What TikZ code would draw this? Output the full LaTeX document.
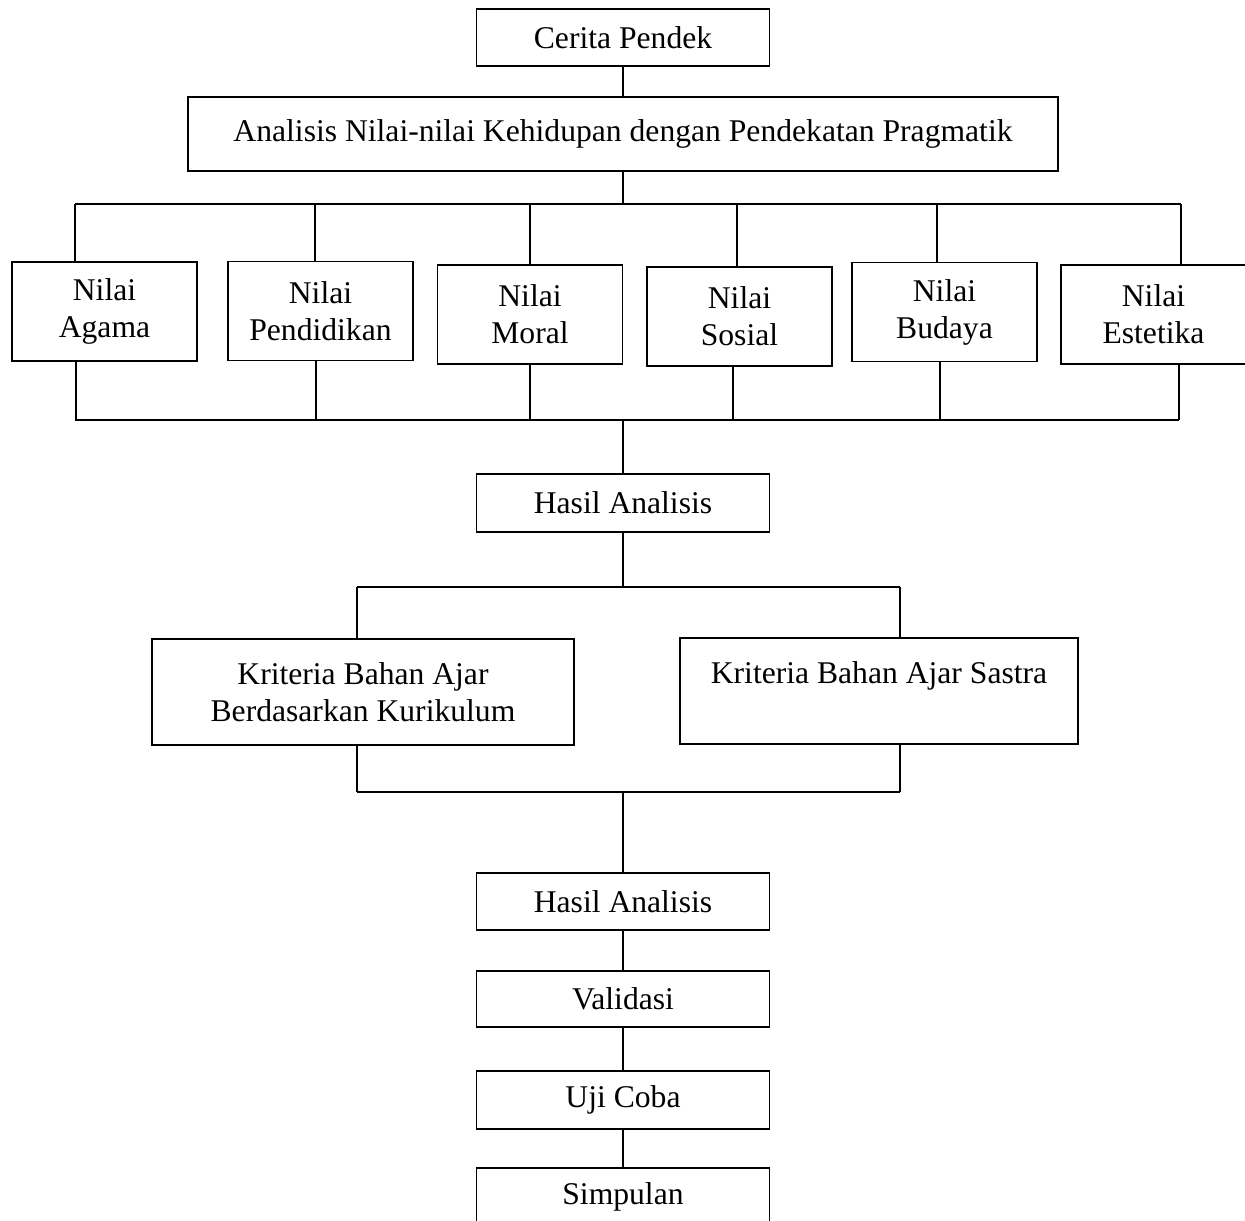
\documentclass[tikz,border=0pt]{standalone}
\usepackage{fontspec}
\setmainfont{Liberation Serif}
\tikzset{
  kotak/.style={draw, rectangle, align=center, inner sep=0pt, line width=1.1pt,
    minimum width=5.86cm, font=\fontsize{18}{21}\selectfont},
  garis/.style={line width=1.1pt}
}
\begin{document}
\begin{tikzpicture}[x=0.02cm, y=-0.02cm]
\useasboundingbox (0,0) rectangle (1245,1221);
\node[kotak, minimum height=1.14cm] (cerita) at (623,37.5) {Cerita Pendek};
\node[kotak, minimum width=17.4cm, minimum height=1.48cm] (analisis) at (623,134) {Analisis Nilai-nilai Kehidupan dengan Pendekatan Pragmatik};
\node[kotak, minimum width=3.7cm, minimum height=1.98cm] (agama) at (104.5,311.5) {Nilai\\Agama};
\node[kotak, minimum width=3.7cm, minimum height=1.98cm] (pendidikan) at (320.5,311) {Nilai\\Pendidikan};
\node[kotak, minimum width=3.7cm, minimum height=1.98cm] (moral) at (530,314.5) {Nilai\\Moral};
\node[kotak, minimum width=3.7cm, minimum height=1.98cm] (sosial) at (739.5,316.5) {Nilai\\Sosial};
\node[kotak, minimum width=3.7cm, minimum height=1.98cm] (budaya) at (944.5,312) {Nilai\\Budaya};
\node[kotak, minimum width=3.7cm, minimum height=1.98cm] (estetika) at (1153.5,314.5) {Nilai\\Estetika};
\node[kotak, minimum height=1.16cm] (hasilA) at (623,503) {Hasil Analisis};
\node[kotak, minimum width=8.46cm, minimum height=2.12cm] (kritKur) at (363,692) {Kriteria Bahan Ajar\\Berdasarkan Kurikulum};
\node[kotak, minimum width=7.96cm, minimum height=2.12cm] (kritSas) at (879,691) {Kriteria Bahan Ajar Sastra\\~};
\node[kotak, minimum height=1.14cm] (hasilB) at (623,901.5) {Hasil Analisis};
\node[kotak, minimum height=1.12cm] (validasi) at (623,999) {Validasi};
\node[kotak, minimum height=1.16cm] (ujicoba) at (623,1100) {Uji Coba};
\node[kotak, minimum height=1.14cm] (simpulan) at (623,1196.5) {Simpulan};
% cabang nilai
\coordinate (busA) at (623,204);
\coordinate (t1) at (75,204);
\coordinate (t2) at (315,204);
\coordinate (t3) at (530,204);
\coordinate (t4) at (737,204);
\coordinate (t5) at (937,204);
\coordinate (t6) at (1181,204);
\coordinate (busB) at (623,420);
\coordinate (b1) at (76,420);
\coordinate (b2) at (316,420);
\coordinate (b3) at (530,420);
\coordinate (b4) at (733,420);
\coordinate (b5) at (940,420);
\coordinate (b6) at (1179,420);
\draw[garis] (cerita) -- (analisis);
\draw[garis] (analisis) -- (busA);
\draw[garis] (t1) -- (t6);
\draw[garis] (t1) -- (t1 |- agama.north);
\draw[garis] (t2) -- (t2 |- pendidikan.north);
\draw[garis] (t3) -- (t3 |- moral.north);
\draw[garis] (t4) -- (t4 |- sosial.north);
\draw[garis] (t5) -- (t5 |- budaya.north);
\draw[garis] (t6) -- (t6 |- estetika.north);
\draw[garis] (agama.south -| b1) -- (b1);
\draw[garis] (pendidikan.south -| b2) -- (b2);
\draw[garis] (moral.south -| b3) -- (b3);
\draw[garis] (sosial.south -| b4) -- (b4);
\draw[garis] (budaya.south -| b5) -- (b5);
\draw[garis] (estetika.south -| b6) -- (b6);
\draw[garis] (75,420) -- (b6);
\draw[garis] (busB) -- (hasilA);
% cabang kriteria
\coordinate (busC) at (623,587);
\coordinate (k1) at (357,587);
\coordinate (k2) at (900,587);
\coordinate (busD) at (623,792);
\coordinate (m1) at (357,792);
\coordinate (m2) at (900,792);
\draw[garis] (hasilA) -- (busC);
\draw[garis] (k1) -- (k2);
\draw[garis] (k1) -- (k1 |- kritKur.north);
\draw[garis] (k2) -- (k2 |- kritSas.north);
\draw[garis] (kritKur.south -| m1) -- (m1);
\draw[garis] (kritSas.south -| m2) -- (m2);
\draw[garis] (m1) -- (m2);
\draw[garis] (busD) -- (hasilB);
% alur akhir
\draw[garis] (hasilB) -- (validasi);
\draw[garis] (validasi) -- (ujicoba);
\draw[garis] (ujicoba) -- (simpulan);
\end{tikzpicture}
\end{document}
